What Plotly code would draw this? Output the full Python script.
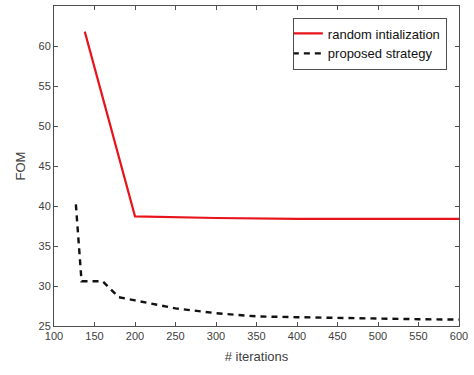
import plotly.graph_objects as go

red_x = [138, 200, 300, 400, 500, 600]
red_y = [61.8, 38.7, 38.5, 38.4, 38.4, 38.4]

blk_x = [127, 134, 160, 180, 200, 250, 300, 350, 400, 450, 500, 550, 600]
blk_y = [40.2, 30.6, 30.6, 28.6, 28.2, 27.2, 26.6, 26.2, 26.1, 26.0, 25.9, 25.85, 25.8]

x_ticks = [100, 150, 200, 250, 300, 350, 400, 450, 500, 550, 600]
y_ticks = [25, 30, 35, 40, 45, 50, 55, 60, 65]

fig = go.Figure()
fig.add_trace(go.Scatter(x=red_x, y=red_y, mode="lines", name="random intialization",
                         line=dict(color="#e8141c", width=2.2)))
fig.add_trace(go.Scatter(x=blk_x, y=blk_y, mode="lines", name="proposed strategy",
                         line=dict(color="#111111", width=2.4, dash="6px,5px")))

axis_common = dict(showgrid=False, zeroline=False, showline=True, linecolor="#4d4d4d",
                   linewidth=1, mirror="ticks", ticks="inside", ticklen=4,
                   tickcolor="#4d4d4d", tickfont=dict(size=11, color="#404040"))

fig.update_layout(
    template="none",
    width=474, height=375,
    margin=dict(l=54, r=15, t=6, b=49),
    paper_bgcolor="white", plot_bgcolor="white",
    font=dict(family="Liberation Sans, Arial, sans-serif", color="#404040"),
    xaxis=dict(range=[100, 600], tickvals=x_ticks,
               title=dict(text="# iterations", font=dict(size=13, color="#404040"), standoff=10),
               **axis_common),
    yaxis=dict(range=[25, 65], tickvals=y_ticks,
               title=dict(text="FOM", font=dict(size=13, color="#404040"), standoff=9),
               **axis_common),
    legend=dict(x=0.97, y=0.964, xanchor="right", yanchor="top",
                bordercolor="#4d4d4d", borderwidth=1, bgcolor="white",
                font=dict(size=13, color="#111111"), tracegroupgap=0,
                itemwidth=30, indentation=-6),
    showlegend=True,
)

fig.write_html("out.html", config={"displayModeBar": False},
               post_script="document.body.style.margin='0';")
